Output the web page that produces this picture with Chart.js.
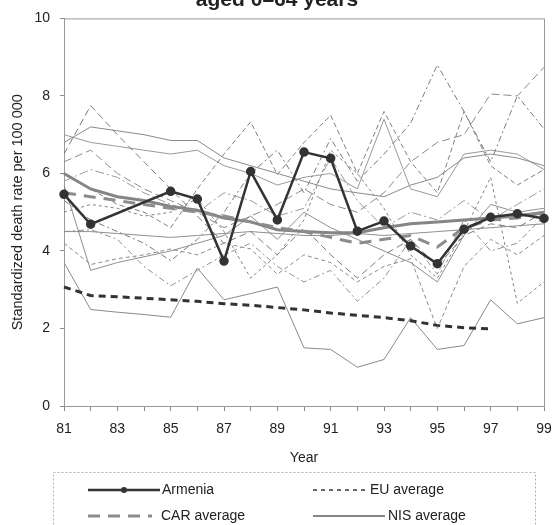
<!DOCTYPE html>
<html>
<head>
<meta charset="utf-8">
<script src="https://cdn.jsdelivr.net/npm/chart.js@4.4.1/dist/chart.umd.min.js"></script>
<style>
    html, body { margin: 0; padding: 0; background: #fff; }
    #wrap { position: relative; width: 554px; height: 525px; }
</style>
</head>
<body>
<div id="wrap"><canvas id="deathChart"></canvas></div>
<script>
// Years on the x axis (19xx)
const years = ['81', '82', '83', '84', '85', '86', '87', '88', '89', '90',
               '91', '92', '93', '94', '95', '96', '97', '98', '99'];

// Highlighted series
const armenia    = [5.46, 4.69, null, null, 5.54, 5.34, 3.74, 6.05, 4.8, 6.55,
                    6.39, 4.51, 4.77, 4.13, 3.67, 4.56, 4.87, 4.96, 4.84];
const euAverage  = [3.07, 2.85, 2.82, 2.78, 2.74, 2.7, 2.64, 2.6, 2.54, 2.48,
                    2.4, 2.34, 2.28, 2.2, 2.08, 2.02, 1.99, null, null];
const carAverage = [5.5, 5.4, 5.3, 5.2, 5.1, 5.0, 4.9, 4.75, 4.6, 4.5,
                    4.35, 4.2, 4.3, 4.4, 4.1, 4.6, 4.8, 4.85, 5.0];
const nisAverage = [6.0, 5.6, 5.4, 5.3, 5.15, 5.05, 4.85, 4.75, 4.55, 4.5,
                    4.47, 4.47, 4.6, 4.7, 4.75, 4.8, 4.85, 4.9, 5.0];

// Other countries (thin background lines)
const country1  = [3.7, 2.49, 2.42, 2.36, 2.29, 3.56, 2.74, 2.9, 3.07, 1.5, 1.46, 1.0, 1.2, 2.28, 1.46, 1.56, 2.74, 2.12, 2.28];
const country2  = [6.5, 7.75, 7.0, 6.3, 5.6, 4.9, 4.2, 4.5, 3.9, 4.6, 3.9, 3.3, 3.9, 4.3, 3.6, 4.4, 4.7, 4.6, 5.0];
const country3  = [6.8, 7.2, 7.1, 7.0, 6.85, 6.85, 6.4, 6.2, 6.0, 5.8, 5.6, 5.5, 5.4, 5.7, 5.9, 6.4, 6.5, 6.4, 6.2];
const country4  = [6.0, 5.6, 5.2, 5.0, 4.6, 5.6, 6.5, 7.33, 5.97, 6.8, 7.5, 6.0, 7.6, 6.3, 5.5, 7.6, 6.2, 5.7, 6.1];
const country5  = [5.3, 4.8, 4.5, 4.2, 3.75, 4.3, 5.0, 6.0, 6.6, 5.5, 6.9, 5.8, 6.5, 7.3, 8.8, 7.6, 6.3, 8.0, 7.15];
const country6  = [6.3, 6.6, 6.0, 5.6, 5.3, 5.0, 4.6, 4.9, 5.2, 5.6, 5.2, 5.0, 5.5, 6.3, 6.8, 7.0, 8.05, 8.0, 8.74];
const country7  = [7.0, 6.8, 6.7, 6.6, 6.5, 6.6, 6.2, 6.0, 5.7, 5.9, 6.0, 5.6, 7.4, 5.6, 5.4, 6.5, 6.6, 6.5, 6.1];
const country8  = [4.5, 4.5, 4.45, 4.4, 4.35, 4.4, 4.45, 4.5, 4.45, 4.4, 4.4, 4.45, 4.4, 4.45, 4.5, 4.55, 4.6, 4.65, 4.7];
const country9  = [4.2, 3.65, 3.8, 3.9, 4.05, 3.9, 4.2, 4.05, 3.4, 3.9, 3.7, 3.2, 3.6, 3.8, 2.0, 3.6, 4.3, 3.9, 4.4];
const country10 = [4.5, 4.55, 4.3, 3.6, 3.1, 3.5, 3.9, 4.2, 3.6, 3.2, 3.5, 2.7, 3.3, 4.3, 3.4, 4.8, 4.0, 4.2, 4.9];
const country11 = [5.7, 3.5, 3.7, 3.85, 4.0, 4.2, 4.4, 4.9, 4.3, 5.0, 4.6, 4.3, 4.0, 3.7, 3.2, 4.4, 5.2, 5.0, 5.1];
const country12 = [5.0, 5.2, 5.1, 4.9, 5.0, 5.35, 4.5, 3.3, 3.9, 4.8, 6.6, 6.0, 5.1, 3.9, 3.3, 4.5, 5.9, 2.65, 3.2];
const country13 = [5.8, 6.1, 5.9, 5.5, 5.2, 5.0, 5.5, 5.3, 4.9, 5.1, 6.4, 5.3, 4.6, 5.0, 4.8, 5.3, 4.8, 5.2, 5.6];

const FONT = 'Liberation Sans, Arial, sans-serif';

function thinLine(data, dash, color) {
    return {
        label: '',
        data: data,
        borderColor: color,
        borderWidth: 1,
        borderDash: dash,
        pointRadius: 0,
        fill: false,
        tension: 0
    };
}

// Plot frame + boxed legend like the original figure
const frameAndLegend = {
    id: 'frameAndLegend',
    beforeDatasetsDraw(chart) {
        const a = chart.chartArea;
        const ctx = chart.ctx;
        ctx.save();
        ctx.strokeStyle = '#9a9a9a';
        ctx.lineWidth = 1;
        ctx.strokeRect(a.left + 0.5, a.top + 0.5, a.right - a.left, a.bottom - a.top);
        ctx.restore();
    },
    afterDraw(chart) {
        const ctx = chart.ctx;
        const ds = chart.data.datasets;
        ctx.save();
        ctx.strokeStyle = '#b0b0b0';
        ctx.lineWidth = 1;
        ctx.setLineDash([2, 2]);
        ctx.strokeRect(53.5, 472.5, 482, 60);
        ctx.setLineDash([]);

        const items = [
            { d: ds[0], x1: 88, x2: 160, tx: 162, y: 490, dot: true },
            { d: ds[1], x1: 313, x2: 367, tx: 370, y: 490, dash: [4, 4], w: 1.5 },
            { d: ds[2], x1: 88, x2: 152, tx: 161, y: 516 },
            { d: ds[3], x1: 313, x2: 385, tx: 388, y: 516, w: 2 }
        ];
        items.forEach(function (it) {
            ctx.strokeStyle = it.d.borderColor;
            ctx.lineWidth = it.w || it.d.borderWidth;
            ctx.setLineDash(it.dash || it.d.borderDash || []);
            ctx.beginPath();
            ctx.moveTo(it.x1, it.y);
            ctx.lineTo(it.x2, it.y);
            ctx.stroke();
            ctx.setLineDash([]);
            if (it.dot) {
                ctx.fillStyle = it.d.pointBackgroundColor;
                ctx.beginPath();
                ctx.arc((it.x1 + it.x2) / 2, it.y, 3, 0, Math.PI * 2);
                ctx.fill();
            }
            ctx.fillStyle = '#222';
            ctx.font = '14px ' + FONT;
            ctx.textBaseline = 'middle';
            ctx.textAlign = 'left';
            ctx.fillText(it.d.label, it.tx, it.y);
        });
        ctx.restore();
    }
};

document.addEventListener('DOMContentLoaded', function () {
    const ctx = document.getElementById('deathChart').getContext('2d');
    new Chart(ctx, {
        type: 'line',
        data: {
            labels: years,
            datasets: [
                {
                    label: 'Armenia',
                    data: armenia,
                    borderColor: '#333333',
                    borderWidth: 2.5,
                    pointRadius: 3.5,
                    pointBackgroundColor: '#333333',
                    pointBorderColor: '#333333',
                    spanGaps: true,
                    tension: 0
                },
                {
                    label: 'EU average',
                    data: euAverage,
                    borderColor: '#333333',
                    borderWidth: 3,
                    borderDash: [7, 5],
                    pointRadius: 0,
                    tension: 0
                },
                {
                    label: 'CAR average',
                    data: carAverage,
                    borderColor: '#8c8c8c',
                    borderWidth: 3,
                    borderDash: [12, 8],
                    pointRadius: 0,
                    tension: 0
                },
                {
                    label: 'NIS average',
                    data: nisAverage,
                    borderColor: '#858585',
                    borderWidth: 3,
                    pointRadius: 0,
                    tension: 0
                },
                thinLine(country1, [], '#8a8a8a'),
                thinLine(country2, [7, 4], '#7a7a7a'),
                thinLine(country3, [], '#8a8a8a'),
                thinLine(country4, [5, 3], '#808080'),
                thinLine(country5, [6, 3, 2, 3], '#7a7a7a'),
                thinLine(country6, [8, 4], '#8a8a8a'),
                thinLine(country7, [], '#9a9a9a'),
                thinLine(country8, [], '#8f8f8f'),
                thinLine(country9, [4, 3], '#8a8a8a'),
                thinLine(country10, [6, 3, 2, 3], '#909090'),
                thinLine(country11, [], '#8f8f8f'),
                thinLine(country12, [3, 3], '#808080'),
                thinLine(country13, [9, 3, 2, 3], '#9a9a9a')
            ]
        },
        options: {
            responsive: true,
            maintainAspectRatio: false,
            animation: false,
            layout: {
                padding: { left: 0, right: 0, top: 0, bottom: 57 }
            },
            scales: {
                x: {
                    offset: false,
                    afterFit: function (scale) {
                        scale.height = 62;
                        scale.paddingRight = 10;
                    },
                    border: { color: '#8a8a8a' },
                    grid: {
                        drawOnChartArea: false,
                        drawTicks: true,
                        tickLength: 5,
                        color: '#8a8a8a'
                    },
                    ticks: {
                        autoSkip: false,
                        maxRotation: 0,
                        padding: 10,
                        color: '#222',
                        font: { family: FONT, size: 14 },
                        callback: function (value, index) {
                            return index % 2 === 0 ? years[index] : '';
                        }
                    },
                    title: {
                        display: true,
                        text: 'Year',
                        color: '#222',
                        font: { family: FONT, size: 14 },
                        padding: { top: 0, bottom: 1 }
                    }
                },
                y: {
                    min: 0,
                    max: 10,
                    afterFit: function (scale) { scale.width = 64; },
                    border: { color: '#8a8a8a' },
                    grid: {
                        drawOnChartArea: false,
                        drawTicks: true,
                        tickLength: 4,
                        color: '#8a8a8a'
                    },
                    ticks: {
                        stepSize: 2,
                        padding: 10,
                        color: '#222',
                        font: { family: FONT, size: 14 }
                    },
                    title: {
                        display: true,
                        text: 'Standardized death rate per 100 000',
                        color: '#222',
                        font: { family: FONT, size: 14.5 },
                        padding: { top: 9, bottom: 0 }
                    }
                }
            },
            plugins: {
                legend: { display: false },
                tooltip: { enabled: false },
                title: {
                    display: true,
                    text: 'aged 0–64 years',
                    color: '#222',
                    font: { family: FONT, size: 21, weight: 'bold', lineHeight: 1.2 },
                    padding: { top: -15, bottom: 6 }
                }
            }
        },
        plugins: [frameAndLegend]
    });
});
</script>
</body>
</html>
